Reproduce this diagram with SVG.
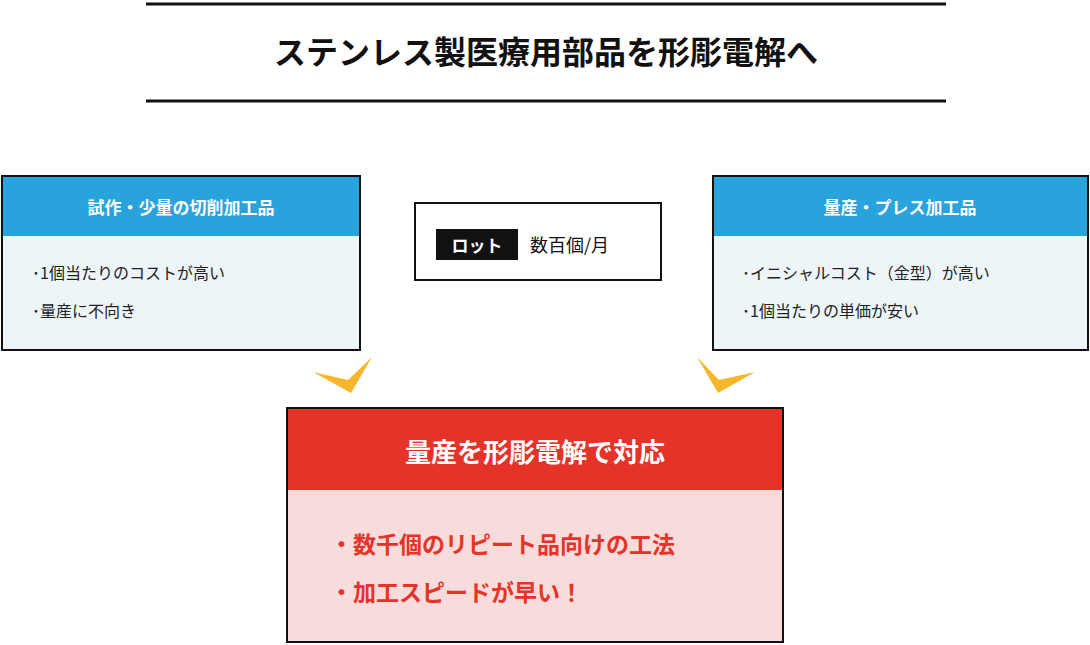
<svg xmlns="http://www.w3.org/2000/svg" width="1090" height="645" viewBox="0 0 1090 645">
<style>
text{font-family:"Noto Sans CJK JP","Noto Sans",sans-serif}
.hd{fill:#fff;font-size:17px;font-weight:bold;text-anchor:middle}
.it{fill:#222;font-size:16px}
.ar{fill:#f8b62d}
</style>
<rect width="1090" height="645" fill="#fff"/>
<g id="title">
<line x1="146" y1="4" x2="946" y2="4" stroke="#111" stroke-width="3"/>
<line x1="146" y1="101" x2="946" y2="101" stroke="#111" stroke-width="3"/>
<text x="546" y="64" font-size="32" font-weight="bold" text-anchor="middle" fill="#111">ステンレス製医療用部品を形彫電解へ</text>
</g>
<g id="left">
<rect x="2" y="176" width="358" height="174" fill="#edf5f9" stroke="#111" stroke-width="2"/>
<rect x="3" y="177" width="356" height="59" fill="#29a3dc"/>
<text class="hd" x="181" y="214">試作・少量の切削加工品</text>
<text class="it" x="32" y="279">･1個当たりのコストが高い</text>
<text class="it" x="32" y="317">･量産に不向き</text>
</g>
<g id="lot">
<rect x="415" y="203" width="246" height="77" fill="#fff" stroke="#111" stroke-width="2"/>
<rect x="436" y="229" width="82" height="31" fill="#111"/>
<text x="477" y="252" font-size="17" fill="#fff" text-anchor="middle" font-weight="bold">ロット</text>
<text x="530" y="252" font-size="18" fill="#111">数百個/月</text>
</g>
<g id="right">
<rect x="713" y="176" width="375" height="174" fill="#edf5f9" stroke="#111" stroke-width="2"/>
<rect x="714" y="177" width="373" height="59" fill="#29a3dc"/>
<text class="hd" x="900" y="214">量産・プレス加工品</text>
<text class="it" x="742" y="279">･イニシャルコスト（金型）が高い</text>
<text class="it" x="742" y="317">･1個当たりの単価が安い</text>
</g>
<g id="connectors">
<polygon class="ar" points="313,372 348,380 372,357 351,393"/>
<polygon class="ar" points="697,357 719,380 755,372 718,393"/>
</g>
<g id="main">
<rect x="287" y="408" width="496" height="234" fill="#f7dcdb" stroke="#111" stroke-width="2"/>
<rect x="288" y="409" width="494" height="81" fill="#e63329"/>
<text x="535" y="462" font-size="26" font-weight="bold" fill="#fff" text-anchor="middle">量産を形彫電解で対応</text>
<text x="330" y="553" font-size="23" font-weight="bold" fill="#e63329">・数千個のリピート品向けの工法</text>
<text x="330" y="601" font-size="23" font-weight="bold" fill="#e63329">・加工スピードが早い！</text>
</g>
</svg>
